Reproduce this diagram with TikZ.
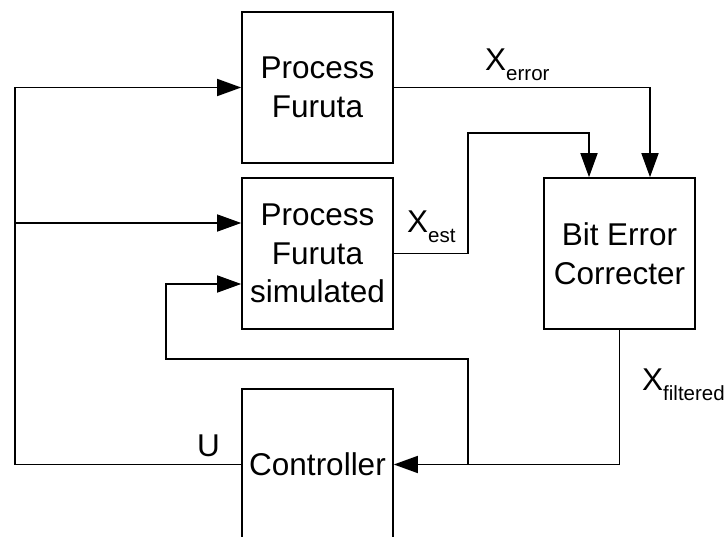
\documentclass[tikz,border=0pt]{standalone}
\usepackage{fontspec}
\setmainfont{Liberation Sans}
\usepackage{tikz}
\usetikzlibrary{arrows.meta, positioning}
\newcommand{\sigsub}[1]{\raisebox{-10pt}{\fontsize{20.5pt}{22pt}\selectfont #1}}

\begin{document}
\begin{tikzpicture}[
        x=1pt, y=-1pt,
        block/.style={draw, line width=1.6pt, minimum width=151pt, minimum height=151pt,
                      inner sep=0pt, align=center, font=\fontsize{31.5pt}{38.5pt}\selectfont},
        arrow/.style={-{Triangle[length=24pt, width=17pt]}, line width=1.6pt},
        sig/.style={anchor=base west, inner sep=0pt, font=\fontsize{31.5pt}{38pt}\selectfont},
    ]
        \clip (0,0) rectangle (728,537);

        %--- blocks ---
        \node[block] (pf)   at (317.5,87.5)  {Process\\Furuta};
        \node[block] (sim)  at (317.5,253.5) {Process\\Furuta\\simulated};
        \node[block] (bec)  at (619.5,253.5) {Bit Error\\Correcter};
        \node[block] (ctrl) at (317.5,464.5) {Controller};

        %--- control signal U ---
        \coordinate (bus) at (15,223);
        \draw[arrow] (ctrl.west) -| (bus) |- (pf.west);
        \draw[arrow] (bus) -- (bus -| sim.west);
        \node[sig] (u) at (197,456) {U};

        %--- measurements ---
        \draw[arrow] (pf.east) -| ([xshift=30.5pt]bec.north);
        \node[sig] (xerr) at (485,71) {X\sigsub{error}};

        \coordinate (estup) at (468,133);
        \draw[arrow] (sim.east) -| (estup) -| ([xshift=-30.5pt]bec.north);
        \node[sig] (xest) at (407,233) {X\sigsub{est}};

        %--- filtered state ---
        \draw[arrow] (bec.south) |- (ctrl.east);
        \node[sig] (xfilt) at (642,390) {X\sigsub{filtered}};

        \coordinate (tap) at (468,464.5);
        \coordinate (loop) at (166,359);
        \draw[arrow] (tap) |- (loop) |- ([yshift=-30.5pt]sim.west);
    \end{tikzpicture}
\end{document}
